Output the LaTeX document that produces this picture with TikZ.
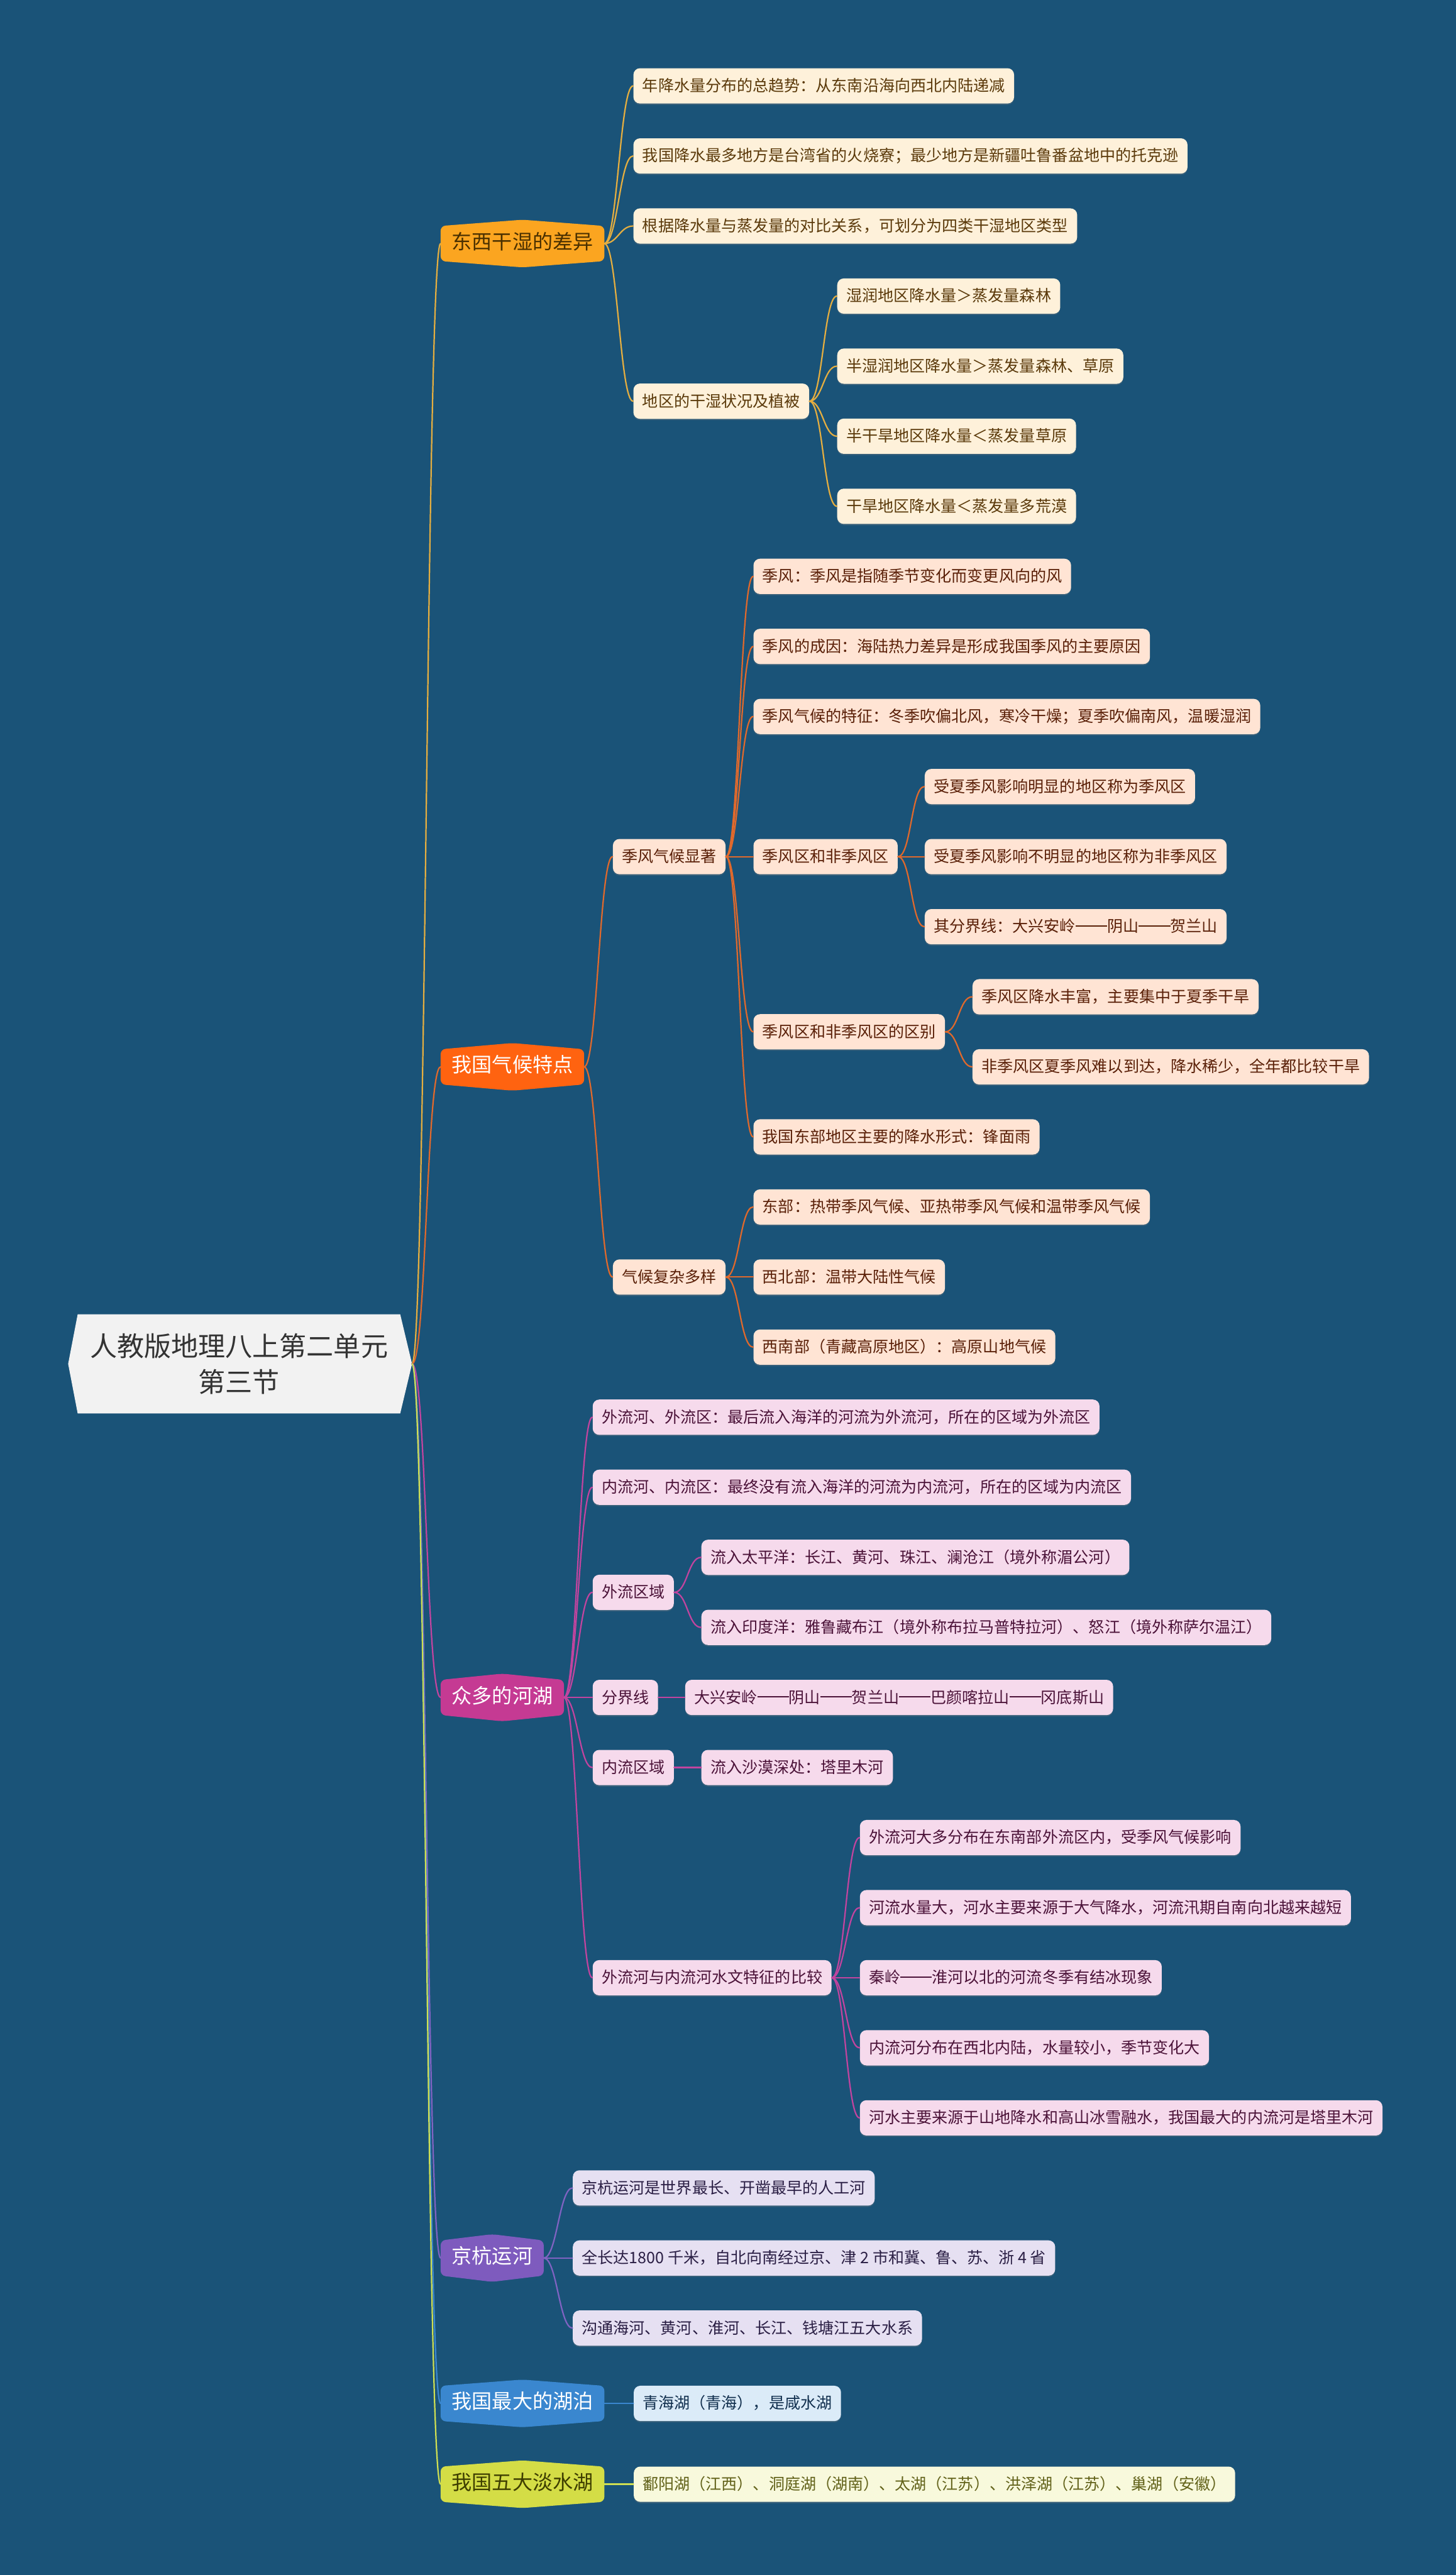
\documentclass[tikz,border=0pt]{standalone}
\usepackage{fontspec}
\setmainfont{Noto Sans CJK SC}
\usetikzlibrary{calc,shadows}
\pgfdeclarelayer{background}
\pgfsetlayers{background,main}
\definecolor{bgc}{HTML}{1A5378}
\definecolor{rootfill}{HTML}{F2F2F2}
\definecolor{roottext}{HTML}{333333}
\definecolor{bafill}{HTML}{FBA520}\definecolor{batext}{HTML}{4A3000}
\definecolor{afill}{HTML}{FEF1DA}\definecolor{atext}{HTML}{5B3A0B}\definecolor{alink}{HTML}{E5AE40}
\definecolor{bbfill}{HTML}{FF6310}
\definecolor{cfill}{HTML}{FFE4D4}\definecolor{ctext}{HTML}{5A2008}\definecolor{clink}{HTML}{E0692C}
\definecolor{bcfill}{HTML}{C53A93}
\definecolor{dfill}{HTML}{F6DAEC}\definecolor{dtext}{HTML}{4B1238}\definecolor{dlink}{HTML}{C2449F}
\definecolor{bdfill}{HTML}{7E5BBE}
\definecolor{efill}{HTML}{E6E0F2}\definecolor{etext}{HTML}{2B1F45}\definecolor{elink}{HTML}{8063C2}
\definecolor{befill}{HTML}{3A87CF}
\definecolor{ffill}{HTML}{DBEBF8}\definecolor{ftext}{HTML}{12304F}\definecolor{flink}{HTML}{3A87CF}
\definecolor{bffill}{HTML}{D4DD46}\definecolor{bftext}{HTML}{3E3E00}
\definecolor{gfill}{HTML}{F8F9DC}\definecolor{gtext}{HTML}{62621A}\definecolor{glink}{HTML}{CFDF52}
\newcommand\dd{\rule[0.36em]{2em}{0.065em}}
\tikzset{
  leaf/.style={anchor=west, rounded corners=4pt, inner xsep=5.5pt, inner ysep=0pt,
    minimum height=21.5pt, font=\fontsize{9.6}{11}\selectfont, text height=0.82em, text depth=0.14em,
    drop shadow={shadow xshift=0pt, shadow yshift=-0.8pt, opacity=0.3}},
  la/.style={leaf, fill=afill, text=atext},
  lc/.style={leaf, fill=cfill, text=ctext},
  ld/.style={leaf, fill=dfill, text=dtext},
  le/.style={leaf, fill=efill, text=etext},
  lf/.style={leaf, fill=ffill, text=ftext},
  lg/.style={leaf, fill=gfill, text=gtext},
  mainn/.style={anchor=west, inner xsep=6.6pt, inner ysep=0pt, minimum height=21pt,
    font=\fontsize{12.3}{14}\selectfont, text height=0.82em, text depth=0.14em},
  rootn/.style={minimum width=196pt, minimum height=60pt, inner sep=0pt, align=center,
    font=\fontsize{16.5}{22}\selectfont, text=roottext},
  link/.style={line width=0.85pt, line cap=round},
}
\newcommand\mylink[3]{\draw[link,#3] (#1.east) .. controls +(8pt,0) and +(-8pt,0) .. (#2.west);}
\newcommand\rootlink[2]{\draw[link,#2] ([xshift=7.2pt]root.east) .. controls +(8.6pt,0) and +(-8.6pt,0) .. (#1.west);}
\begin{document}
\begin{tikzpicture}[x=1pt,y=-1pt]
\begin{pgfonlayer}{background}
\fill[bgc] (0,0) rectangle (886.5,1568);
\end{pgfonlayer}
\useasboundingbox (0,0) rectangle (886.5,1568);

% root
\node[rootn] (root) at (145.5,830.5) {人教版地理八上第二单元\\第三节};

% main branches
\node[mainn, text=batext] (b1) at (268.3,148.3) {东西干湿的差异};
\node[mainn, text=white] (b2) at (268.3,649.63) {我国气候特点};
\node[mainn, text=white] (b3) at (268.3,1033.63) {众多的河湖};
\node[mainn, text=white] (b4) at (268.3,1374.97) {京杭运河};
\node[mainn, text=white] (b5) at (268.3,1463.5) {我国最大的湖泊};
\node[mainn, text=bftext] (b6) at (268.3,1512.7) {我国五大淡水湖};

\begin{pgfonlayer}{background}
\foreach \n/\c in {b1/bafill,b2/bbfill,b3/bcfill,b4/bdfill,b5/befill,b6/bffill}{
  \fill[\c, rounded corners=3pt] (\n.north west) -- ([yshift=3.8pt]\n.north) -- (\n.north east)
    -- (\n.south east) -- ([yshift=-3.8pt]\n.south) -- (\n.south west) -- cycle;
}
\fill[rootfill] (root.north west) -- (root.north east) -- ([xshift=7.2pt]root.east)
  -- (root.south east) -- (root.south west) -- ([xshift=-5.8pt]root.west) -- cycle;
\end{pgfonlayer}

% branch 1
\node[la] (a1) at (385.5,52.3) {年降水量分布的总趋势：从东南沿海向西北内陆递减};
\node[la] (a2) at (385.5,94.97) {我国降水最多地方是台湾省的火烧寮；最少地方是新疆吐鲁番盆地中的托克逊};
\node[la] (a3) at (385.5,137.63) {根据降水量与蒸发量的对比关系，可划分为四类干湿地区类型};
\node[la] (a4) at (385.5,244.3) {地区的干湿状况及植被};
\node[la] (a41) at (509.6,180.3) {湿润地区降水量＞蒸发量森林};
\node[la] (a42) at (509.6,222.97) {半湿润地区降水量＞蒸发量森林、草原};
\node[la] (a43) at (509.6,265.63) {半干旱地区降水量＜蒸发量草原};
\node[la] (a44) at (509.6,308.3) {干旱地区降水量＜蒸发量多荒漠};

% branch 2
\node[lc] (c1) at (373,521.63) {季风气候显著};
\node[lc] (c11) at (458.6,350.97) {季风：季风是指随季节变化而变更风向的风};
\node[lc] (c12) at (458.6,393.63) {季风的成因：海陆热力差异是形成我国季风的主要原因};
\node[lc] (c13) at (458.6,436.3) {季风气候的特征：冬季吹偏北风，寒冷干燥；夏季吹偏南风，温暖湿润};
\node[lc] (c14) at (458.6,521.63) {季风区和非季风区};
\node[lc] (c141) at (562.9,478.97) {受夏季风影响明显的地区称为季风区};
\node[lc] (c142) at (562.9,521.63) {受夏季风影响不明显的地区称为非季风区};
\node[lc] (c143) at (562.9,564.3) {其分界线：大兴安岭\dd 阴山\dd 贺兰山};
\node[lc] (c15) at (458.6,628.3) {季风区和非季风区的区别};
\node[lc] (c151) at (592,606.97) {季风区降水丰富，主要集中于夏季干旱};
\node[lc] (c152) at (592,649.63) {非季风区夏季风难以到达，降水稀少，全年都比较干旱};
\node[lc] (c16) at (458.6,692.3) {我国东部地区主要的降水形式：锋面雨};
\node[lc] (c2) at (373,777.63) {气候复杂多样};
\node[lc] (c21) at (458.6,734.97) {东部：热带季风气候、亚热带季风气候和温带季风气候};
\node[lc] (c22) at (458.6,777.63) {西北部：温带大陆性气候};
\node[lc] (c23) at (458.6,820.3) {西南部（青藏高原地区）：高原山地气候};

% branch 3
\node[ld] (d1) at (360.7,862.97) {外流河、外流区：最后流入海洋的河流为外流河，所在的区域为外流区};
\node[ld] (d2) at (360.7,905.63) {内流河、内流区：最终没有流入海洋的河流为内流河，所在的区域为内流区};
\node[ld] (d3) at (360.7,969.63) {外流区域};
\node[ld] (d31) at (426.9,948.3) {流入太平洋：长江、黄河、珠江、澜沧江（境外称湄公河）};
\node[ld] (d32) at (426.9,990.97) {流入印度洋：雅鲁藏布江（境外称布拉马普特拉河）、怒江（境外称萨尔温江）};
\node[ld] (d4) at (360.7,1033.63) {分界线};
\node[ld] (d41) at (417,1033.63) {大兴安岭\dd 阴山\dd 贺兰山\dd 巴颜喀拉山\dd 冈底斯山};
\node[ld] (d5) at (360.7,1076.3) {内流区域};
\node[ld] (d51) at (426.9,1076.3) {流入沙漠深处：塔里木河};
\node[ld] (d6) at (360.7,1204.3) {外流河与内流河水文特征的比较};
\node[ld] (d61) at (523.4,1118.97) {外流河大多分布在东南部外流区内，受季风气候影响};
\node[ld] (d62) at (523.4,1161.63) {河流水量大，河水主要来源于大气降水，河流汛期自南向北越来越短};
\node[ld] (d63) at (523.4,1204.3) {秦岭\dd 淮河以北的河流冬季有结冰现象};
\node[ld] (d64) at (523.4,1246.97) {内流河分布在西北内陆，水量较小，季节变化大};
\node[ld] (d65) at (523.4,1289.63) {河水主要来源于山地降水和高山冰雪融水，我国最大的内流河是塔里木河};

% branch 4
\node[le] (e1) at (348.6,1332.3) {京杭运河是世界最长、开凿最早的人工河};
\node[le] (e2) at (348.6,1374.97) {全长达1800 千米，自北向南经过京、津 2 市和冀、鲁、苏、浙 4 省};
\node[le] (e3) at (348.6,1417.63) {沟通海河、黄河、淮河、长江、钱塘江五大水系};

% branch 5, 6
\node[lf] (f1) at (385.7,1463.5) {青海湖（青海），是咸水湖};
\node[lg] (g1) at (385.7,1512.7) {鄱阳湖（江西）、洞庭湖（湖南）、太湖（江苏）、洪泽湖（江苏）、巢湖（安徽）};

% connectors
\rootlink{b1}{alink}
\rootlink{b2}{clink}
\rootlink{b3}{dlink}
\rootlink{b4}{elink}
\rootlink{b5}{flink}
\rootlink{b6}{glink}

\foreach \t in {a1,a2,a3,a4}{\mylink{b1}{\t}{alink}}
\foreach \t in {a41,a42,a43,a44}{\mylink{a4}{\t}{alink}}

\foreach \t in {c1,c2}{\mylink{b2}{\t}{clink}}
\foreach \t in {c11,c12,c13,c14,c15,c16}{\mylink{c1}{\t}{clink}}
\foreach \t in {c141,c142,c143}{\mylink{c14}{\t}{clink}}
\foreach \t in {c151,c152}{\mylink{c15}{\t}{clink}}
\foreach \t in {c21,c22,c23}{\mylink{c2}{\t}{clink}}

\foreach \t in {d1,d2,d3,d4,d5,d6}{\mylink{b3}{\t}{dlink}}
\foreach \t in {d31,d32}{\mylink{d3}{\t}{dlink}}
\mylink{d4}{d41}{dlink}
\mylink{d5}{d51}{dlink}
\foreach \t in {d61,d62,d63,d64,d65}{\mylink{d6}{\t}{dlink}}

\foreach \t in {e1,e2,e3}{\mylink{b4}{\t}{elink}}
\mylink{b5}{f1}{flink}
\mylink{b6}{g1}{glink}
\end{tikzpicture}
\end{document}
